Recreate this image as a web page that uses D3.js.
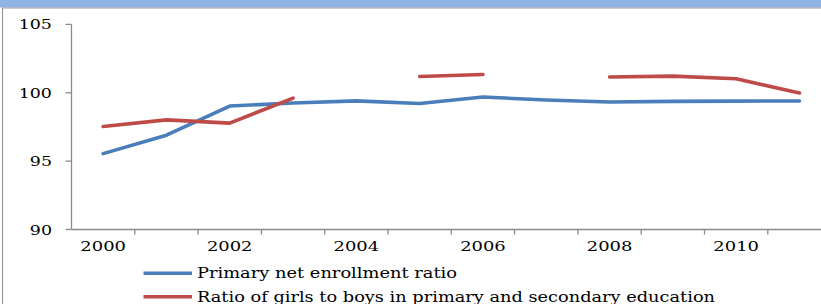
<!DOCTYPE html>
<html><head><meta charset="utf-8">
<script src="https://cdn.jsdelivr.net/npm/d3@7"></script>
<style>html,body{margin:0;padding:0;background:#fff;overflow:hidden}</style>
</head><body>
<svg id="c" width="821" height="304"></svg>
<script>
const years = [2000,2001,2002,2003,2004,2005,2006,2007,2008,2009,2010,2011];
const enrollment = [95.55,96.9,99.03,99.25,99.41,99.22,99.69,99.47,99.32,99.37,99.39,99.4];
const girlsBoys = [97.53,98.02,97.78,99.61,null,101.19,101.34,null,101.15,101.22,101.02,99.98];
const yTicks = [90,95,100,105];
const xLabels = [2000,2002,2004,2006,2008,2010];
const seriesNames = ["Primary net enrollment ratio","Ratio of girls to boys in primary and secondary education"];
const colors = ["#4A7EBB","#BE4B48"];

const svg = d3.select("#c");
// top bar and frame
svg.append("rect").attr("x",0).attr("y",0).attr("width",821).attr("height",7.5).attr("fill","#8DB4E2");
svg.append("line").attr("x1",2).attr("x2",821).attr("y1",8).attr("y2",8).attr("stroke","#9a9a9a").attr("stroke-width",1.2);
svg.append("line").attr("x1",2.5).attr("x2",2.5).attr("y1",8).attr("y2",304).attr("stroke","#9a9a9a").attr("stroke-width",1.2);

const x = d3.scaleBand().domain(years).range([71.5, 831.1]);
const y = d3.scaleLinear().domain([90,105]).range([229.5, 24.4]);
const axisColor = "#8a8a8a";
const font = "'DejaVu Serif', serif";

// y axis
svg.append("line").attr("x1",71.5).attr("x2",71.5).attr("y1",y(105)).attr("y2",y(90)).attr("stroke",axisColor).attr("stroke-width",1.3);
yTicks.forEach(t=>{
  svg.append("line").attr("x1",65.5).attr("x2",71.5).attr("y1",y(t)).attr("y2",y(t)).attr("stroke",axisColor).attr("stroke-width",1.3);
  const s = String(t);
  svg.append("text").attr("x",52).attr("y",y(t)+5).attr("text-anchor","end")
    .attr("font-family",font).attr("font-size",13).attr("fill","#000")
    .attr("textLength",s.length*11.1).attr("lengthAdjust","spacingAndGlyphs").text(s);
});
// x axis
svg.append("line").attr("x1",71.5).attr("x2",821).attr("y1",y(90)).attr("y2",y(90)).attr("stroke",axisColor).attr("stroke-width",1.3);
years.forEach(yr=>{
  const bx = x(yr);
  if (yr !== years[0]) svg.append("line").attr("x1",bx).attr("x2",bx).attr("y1",y(90)).attr("y2",y(90)+5).attr("stroke",axisColor).attr("stroke-width",1.3);
});
xLabels.forEach(yr=>{
  const s = String(yr);
  svg.append("text").attr("x",x(yr)+x.bandwidth()/2).attr("y",250.5).attr("text-anchor","middle")
    .attr("font-family",font).attr("font-size",13).attr("fill","#000")
    .attr("textLength",s.length*11.4).attr("lengthAdjust","spacingAndGlyphs").text(s);
});

const line = d3.line().defined(d=>d.v!==null).x(d=>x(d.yr)+x.bandwidth()/2).y(d=>y(d.v));
[enrollment, girlsBoys].forEach((arr,i)=>{
  svg.append("path").datum(years.map((yr,j)=>({yr, v:arr[j]})))
    .attr("d",line).attr("fill","none").attr("stroke",colors[i]).attr("stroke-width",3.6)
    .attr("stroke-linejoin","round").attr("stroke-linecap","round");
});

// legend
const legY = [273.3, 296.7];
const legW = [260, 518];
seriesNames.forEach((n,i)=>{
  svg.append("line").attr("x1",143.5).attr("x2",192).attr("y1",legY[i]).attr("y2",legY[i]).attr("stroke",colors[i]).attr("stroke-width",3.6);
  svg.append("text").attr("x",197).attr("y",legY[i]+5).attr("font-family",font).attr("font-size",14.5).attr("fill","#000")
    .attr("textLength",legW[i]).attr("lengthAdjust","spacingAndGlyphs").text(n);
});
</script>
</body></html>
